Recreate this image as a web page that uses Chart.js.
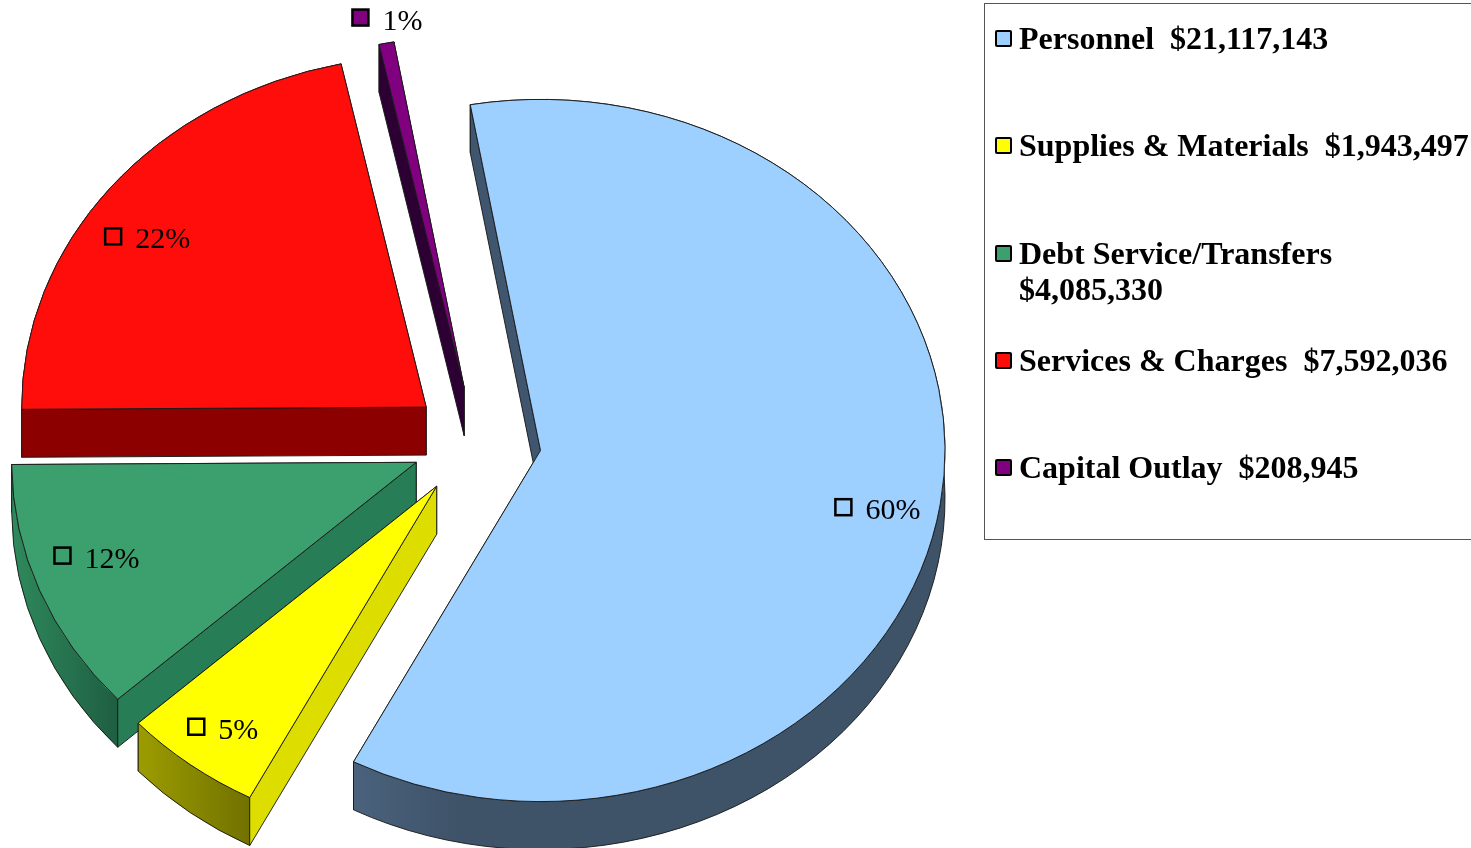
<!DOCTYPE html>
<html>
<head>
<meta charset="utf-8">
<title>Budget by category</title>
<script src="https://cdn.jsdelivr.net/npm/chart.js@4"></script>
<style>
    html, body { margin: 0; padding: 0; background: #fff; overflow: hidden; }
    #wrap { position: relative; width: 1471px; height: 848px; }
    #pie { position: absolute; left: 0; top: 0; }
    #legend {
        position: absolute; left: 984px; top: 3px; width: 500px; height: 535px;
        border: 1px solid #555; box-sizing: content-box;
        font: bold 32px "Liberation Serif", serif; color: #000;
    }
    .row { position: absolute; left: 10px; width: 470px; line-height: 36px; }
    .key {
        position: absolute; left: 0; top: 10px; width: 13px; height: 13px;
        border: 2.5px solid #000; border-radius: 2px;
    }
    .txt { position: absolute; left: 24px; top: 0; width: 452px; white-space: pre-wrap; }
</style>
</head>
<body>
<div id="wrap">
    <canvas id="pie" width="1471" height="848"></canvas>
    <div id="legend"></div>
</div>
<script>
(function () {
    'use strict';

    var categories = ['Personnel', 'Supplies & Materials', 'Debt Service/Transfers', 'Services & Charges', 'Capital Outlay'];
    var amounts = [21117143, 1943497, 4085330, 7592036, 208945];
    var percentLabels = ['60%', '5%', '12%', '22%', '1%'];

    // Slice colours.
    var topColors = ['#9DCFFF', '#FFFF00', '#3CA06E', '#FF0D0A', '#800080'];
    var cutColors = ['#3F566E', '#DDDD00', '#277D55', '#8C0000', '#2D0033'];
    var rimLight = ['#4A627C', '#9C9C00', '#2E8A5C', '#8C0000', '#2D0033'];
    var rimDark = ['#3E5268', '#727200', '#1E5C41', '#8C0000', '#2D0033'];

    // Look of the tilted pie.
    var TILT = 0.868;
    var DEPTH = 48;
    var EDGE = '#1a1a1a';
    var DRAW_ORDER = [3, 4, 2, 1, 0];

    // How far each slice is pulled out of the pie, in screen pixels.
    var explodeX = [61.5, -42.3, -62.8, -52.8, -14.8];
    var explodeY = [9.5, 45.2, 21.3, -33.9, -53.3];

    // Label anchors: fraction of the radius and angle shift (deg) from the slice middle.
    var labelRadius = [0.766, 0.907, 0.914, 0.914, 1.085];
    var labelShift = [3.4, 3.4, 4.5, -6.6, -2.6];

    function drawCut(ctx, arc, a, color) {
        var R = arc.outerRadius, D = DEPTH / TILT;
        var px = arc.x + Math.cos(a) * R, py = arc.y + Math.sin(a) * R;
        ctx.beginPath();
        ctx.moveTo(arc.x, arc.y);
        ctx.lineTo(px, py);
        ctx.lineTo(px, py + D);
        ctx.lineTo(arc.x, arc.y + D);
        ctx.closePath();
        ctx.fillStyle = color;
        ctx.fill();
        ctx.stroke();
    }

    function drawWalls(ctx, arc, i) {
        var x = arc.x, y = arc.y, R = arc.outerRadius;
        var a0 = arc.startAngle, a1 = arc.endAngle;
        var D = DEPTH / TILT;

        ctx.lineWidth = 1;
        ctx.strokeStyle = EDGE;
        ctx.lineJoin = 'round';

        // The cut at the end angle sits behind the rim, the one at the start angle in front.
        drawCut(ctx, arc, a1, cutColors[i]);

        // Curved rim, shaded light to dark from its left end.
        var left = x + Math.min(Math.cos(a0), Math.cos(a1)) * R;
        var grad = ctx.createLinearGradient(left, 0, left + 110, 0);
        grad.addColorStop(0, rimLight[i]);
        grad.addColorStop(1, rimDark[i]);
        ctx.beginPath();
        ctx.arc(x, y, R, a0, a1);
        ctx.arc(x, y + D, R, a1, a0, true);
        ctx.closePath();
        ctx.fillStyle = grad;
        ctx.fill();
        ctx.stroke();

        drawCut(ctx, arc, a0, cutColors[i]);
    }

    var tiltedPie = {
        id: 'tiltedPie',
        // The library's arcs supply the geometry; they are redrawn here tilted and exploded.
        beforeDatasetDraw: function (chart) {
            var ctx = chart.ctx;
            var arcs = chart.getDatasetMeta(0).data;

            DRAW_ORDER.forEach(function (i) {
                var arc = arcs[i];
                ctx.save();
                ctx.translate(arc.x + explodeX[i], arc.y + explodeY[i]);
                ctx.scale(1, TILT);
                ctx.translate(-arc.x, -arc.y);
                drawWalls(ctx, arc, i);
                arc.draw(ctx);
                ctx.restore();
            });

            arcs.forEach(function (arc, i) {
                drawPercent(ctx, arc, i);
            });
            return false;
        }
    };

    function drawPercent(ctx, arc, i) {
        var mid = (arc.startAngle + arc.endAngle) / 2;
        var a = mid + labelShift[i] * Math.PI / 180;
        var r = arc.outerRadius * labelRadius[i];
        var px = arc.x + explodeX[i] + Math.cos(a) * r;
        var py = arc.y + explodeY[i] + Math.sin(a) * r * TILT;

        ctx.save();
        ctx.fillStyle = topColors[i];
        ctx.strokeStyle = '#000';
        ctx.lineWidth = 2.5;
        ctx.fillRect(px - 8, py - 8, 16, 16);
        ctx.strokeRect(px - 8, py - 8, 16, 16);
        ctx.fillStyle = '#000';
        ctx.font = '30px "Liberation Serif", serif';
        ctx.textAlign = 'left';
        ctx.textBaseline = 'alphabetic';
        ctx.fillText(percentLabels[i], px + 22, py + 12);
        ctx.restore();
    }

    function buildLegend() {
        var box = document.getElementById('legend');
        categories.forEach(function (name, i) {
            var row = document.createElement('div');
            row.className = 'row';
            row.style.top = (16 + i * 107.3) + 'px';

            var key = document.createElement('span');
            key.className = 'key';
            key.style.background = topColors[i];

            var txt = document.createElement('span');
            txt.className = 'txt';
            txt.textContent = name + '  $' + amounts[i].toLocaleString('en-US');

            row.appendChild(key);
            row.appendChild(txt);
            box.appendChild(row);
        });
    }

    buildLegend();

    new Chart(document.getElementById('pie').getContext('2d'), {
        type: 'pie',
        plugins: [tiltedPie],
        data: {
            labels: categories,
            datasets: [{
                data: amounts,
                backgroundColor: topColors,
                borderColor: EDGE,
                borderWidth: 1
            }]
        },
        options: {
            responsive: false,
            animation: false,
            rotation: -10,
            layout: {
                padding: { left: 74, right: 587, top: 36, bottom: 2 }
            },
            plugins: {
                legend: { display: false },
                tooltip: { enabled: false }
            }
        }
    });
})();
</script>
</body>
</html>
